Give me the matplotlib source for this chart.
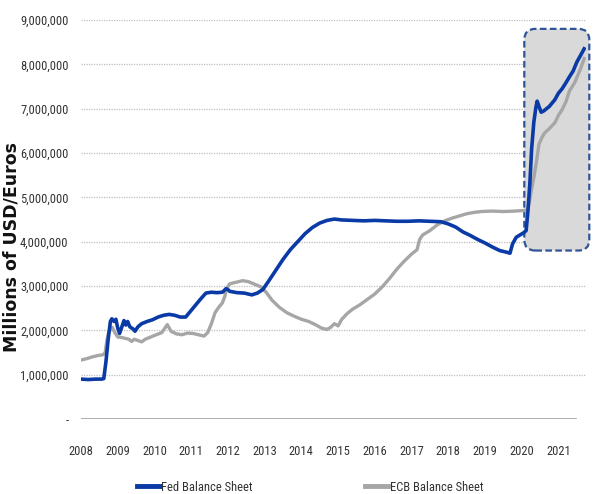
import matplotlib.pyplot as plt
from matplotlib import font_manager
from matplotlib.patches import FancyBboxPatch
from matplotlib.transforms import IdentityTransform
from matplotlib.lines import Line2D


def first_font(names):
    for n in names:
        try:
            font_manager.findfont(font_manager.FontProperties(family=n),
                                  fallback_to_default=False)
            return n
        except ValueError:
            continue
    return 'DejaVu Sans'


narrow = first_font(['Liberation Sans Narrow', 'DejaVu Sans Condensed',
                     'Roboto Condensed', 'Open Sans Condensed', 'Liberation Sans'])
small = 9 if narrow != 'Liberation Sans' else 8
plt.rcParams['font.family'] = [narrow, 'DejaVu Sans']

# Balance sheet sizes, millions of USD / EUR, by decimal year
fed_t = [2008.00, 2008.20, 2008.40, 2008.55, 2008.62, 2008.68, 2008.74, 2008.80, 2008.84, 2008.90,
         2008.95, 2009.00, 2009.05, 2009.10, 2009.17, 2009.22, 2009.27, 2009.33, 2009.42, 2009.47,
         2009.55, 2009.65, 2009.80, 2009.95, 2010.10, 2010.25, 2010.40, 2010.55, 2010.70, 2010.85,
         2010.95, 2011.10, 2011.25, 2011.40, 2011.55, 2011.70, 2011.85, 2011.95, 2012.00, 2012.05,
         2012.25, 2012.45, 2012.65, 2012.80, 2012.95, 2013.10, 2013.30, 2013.50, 2013.70, 2013.90,
         2014.10, 2014.30, 2014.50, 2014.70, 2014.90, 2015.10, 2015.40, 2015.70, 2016.00, 2016.30,
         2016.60, 2016.90, 2017.20, 2017.50, 2017.80, 2018.00, 2018.20, 2018.40, 2018.60, 2018.80,
         2019.00, 2019.20, 2019.40, 2019.60, 2019.68, 2019.75, 2019.85, 2019.95, 2020.05, 2020.12,
         2020.17, 2020.22, 2020.27, 2020.33, 2020.38, 2020.42, 2020.47, 2020.53, 2020.60, 2020.75,
         2020.90, 2021.00, 2021.10, 2021.20, 2021.30, 2021.40, 2021.50, 2021.60, 2021.70]
fed_v = [0.90, 0.89, 0.90, 0.90, 0.91, 1.30, 1.80, 2.20, 2.26, 2.20,
         2.25, 2.05, 1.93, 2.05, 2.22, 2.12, 2.20, 2.08, 2.03, 1.98,
         2.08, 2.15, 2.20, 2.24, 2.30, 2.34, 2.36, 2.34, 2.30, 2.30,
         2.40, 2.55, 2.70, 2.84, 2.86, 2.85, 2.86, 2.94, 2.92, 2.88,
         2.85, 2.84, 2.80, 2.84, 2.92, 3.10, 3.35, 3.60, 3.82, 4.00,
         4.18, 4.32, 4.42, 4.48, 4.51, 4.49, 4.48, 4.47, 4.48, 4.47,
         4.46, 4.46, 4.47, 4.46, 4.45, 4.40, 4.33, 4.22, 4.14, 4.05,
         3.97, 3.88, 3.80, 3.76, 3.74, 3.95, 4.10, 4.15, 4.20, 4.25,
         4.70, 5.30, 6.10, 6.70, 7.00, 7.17, 7.05, 6.92, 6.95, 7.05,
         7.20, 7.35, 7.45, 7.58, 7.72, 7.85, 8.05, 8.20, 8.35]

ecb_t = [2008.00, 2008.15, 2008.30, 2008.45, 2008.60, 2008.66, 2008.70, 2008.75, 2008.80, 2008.85,
         2008.92, 2009.00, 2009.10, 2009.20, 2009.30, 2009.38, 2009.45, 2009.55, 2009.65, 2009.75,
         2009.90, 2010.05, 2010.20, 2010.35, 2010.45, 2010.60, 2010.75, 2010.90, 2011.05, 2011.20,
         2011.35, 2011.45, 2011.55, 2011.65, 2011.75, 2011.85, 2011.92, 2011.97, 2012.05, 2012.20,
         2012.40, 2012.55, 2012.70, 2012.90, 2013.05, 2013.20, 2013.40, 2013.60, 2013.80, 2014.00,
         2014.20, 2014.40, 2014.55, 2014.70, 2014.80, 2014.90, 2015.00, 2015.10, 2015.25, 2015.40,
         2015.60, 2015.80, 2016.00, 2016.20, 2016.40, 2016.60, 2016.80, 2017.00, 2017.15, 2017.22,
         2017.30, 2017.50, 2017.70, 2017.90, 2018.10, 2018.30, 2018.50, 2018.70, 2018.90, 2019.20,
         2019.50, 2019.80, 2020.00, 2020.15, 2020.20, 2020.27, 2020.33, 2020.40, 2020.47, 2020.55,
         2020.62, 2020.75, 2020.90, 2021.00, 2021.10, 2021.20, 2021.30, 2021.45, 2021.60, 2021.70]
ecb_v = [1.33, 1.36, 1.40, 1.43, 1.45, 1.50, 1.75, 1.95, 2.02, 2.07,
         1.95, 1.85, 1.84, 1.82, 1.80, 1.75, 1.80, 1.77, 1.74, 1.80,
         1.85, 1.90, 1.95, 2.13, 1.98, 1.92, 1.90, 1.94, 1.93, 1.90,
         1.87, 1.95, 2.15, 2.40, 2.52, 2.62, 2.78, 2.95, 3.05, 3.08,
         3.12, 3.10, 3.05, 2.98, 2.85, 2.68, 2.52, 2.40, 2.32, 2.25,
         2.20, 2.12, 2.05, 2.02, 2.07, 2.15, 2.10, 2.25, 2.38, 2.48,
         2.58, 2.70, 2.82, 2.98, 3.17, 3.38, 3.56, 3.72, 3.82, 4.05,
         4.15, 4.25, 4.38, 4.47, 4.53, 4.58, 4.63, 4.66, 4.68, 4.69,
         4.68, 4.69, 4.70, 4.71, 4.85, 5.20, 5.45, 5.80, 6.20, 6.35,
         6.45, 6.55, 6.68, 6.85, 6.98, 7.15, 7.40, 7.60, 7.90, 8.13]

years = list(range(2008, 2022))
y_ticks = [0, 1e6, 2e6, 3e6, 4e6, 5e6, 6e6, 7e6, 8e6, 9e6]

# highlighted pandemic period
box_x = (2020.07, 2021.84)
box_y = (3.8e6, 8.8e6)

fed_color = '#0A3AA6'
ecb_color = '#A6A6A6'

fig = plt.figure(figsize=(5.93, 4.94), dpi=100)
ax = fig.add_axes([0.1366, 0.1518, 0.8516, 0.8077])
ax.set_xlim(2008, 2021.75)
ax.set_ylim(0, 9e6)

for s in ax.spines.values():
    s.set_visible(False)

for yv in y_ticks[1:]:
    ax.axhline(yv, color='#BFBFBF', lw=0.9, ls=(0, (1, 1)), zorder=1)
ax.axhline(0, xmax=0.978, color='#A6A6A6', lw=2, zorder=1)

fig.canvas.draw()
(x0, y0), (x1, y1) = ax.transData.transform([(box_x[0], box_y[0]), (box_x[1], box_y[1])])
box = FancyBboxPatch((x0, y0), x1 - x0, y1 - y0,
                     boxstyle='round,pad=0,rounding_size=11',
                     transform=IdentityTransform(), facecolor='#D9D9D9',
                     edgecolor='#2F5597', lw=1.6, ls=(0, (3, 1.5)),
                     zorder=2, clip_on=False)
ax.add_patch(box)

ax.plot(ecb_t, [v * 1e6 for v in ecb_v], color=ecb_color, lw=2.4,
        zorder=3, solid_joinstyle='round')
ax.plot(fed_t, [v * 1e6 for v in fed_v], color=fed_color, lw=2.6,
        zorder=4, solid_joinstyle='round')

ax.set_yticks(y_ticks)
ax.set_yticklabels(['-'] + [f'{int(v):,}' for v in y_ticks[1:]])
ax.set_xticks(years)
ax.set_xticklabels([str(y) for y in years])
ax.tick_params(axis='y', length=0, pad=9, labelsize=small, labelcolor='#333333')
ax.tick_params(axis='x', length=0, pad=19, labelsize=small, labelcolor='#333333')

ax.set_ylabel('Millions of USD/Euros', family='DejaVu Sans', fontweight='bold',
              fontsize=12.5, color='#111111')
ax.yaxis.set_label_coords(-0.12, 0.431)

handles = [Line2D([], [], color=fed_color, lw=3.5),
           Line2D([], [], color=ecb_color, lw=3.5)]
fig.legend(handles, ['Fed Balance Sheet', 'ECB Balance Sheet'], loc='center',
           bbox_to_anchor=(0.523, 1 - 487 / 494), ncol=2, frameon=False,
           fontsize=small, handlelength=1.8, handletextpad=0.15, columnspacing=9.0,
           labelcolor='#333333')

fig.savefig('out.png', dpi=100)
